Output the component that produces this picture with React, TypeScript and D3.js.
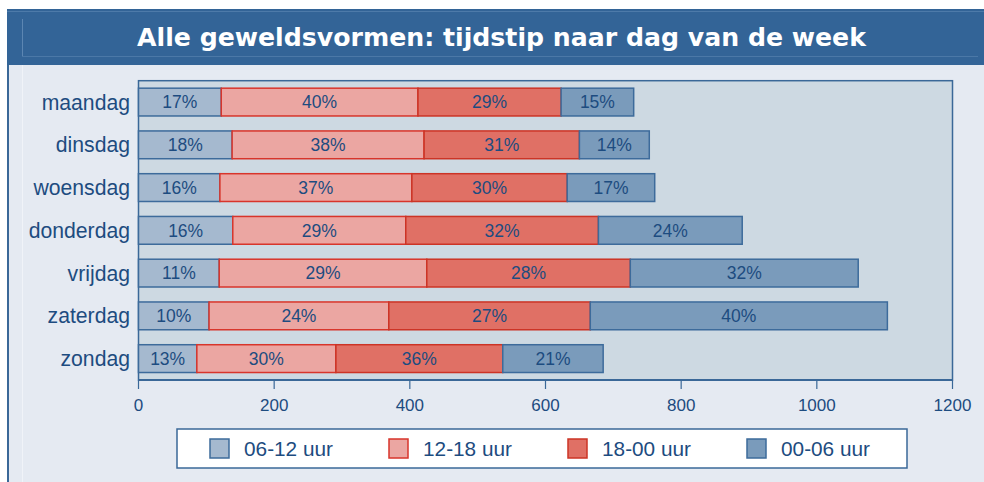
import React from 'react';
import { scaleLinear, scaleBand } from 'd3';

const days = ['maandag', 'dinsdag', 'woensdag', 'donderdag', 'vrijdag', 'zaterdag', 'zondag'];
const series = ['06-12 uur', '12-18 uur', '18-00 uur', '00-06 uur'];

// counts per day
const ochtend = [122, 138, 120, 139, 119, 104, 86];
const middag = [290, 283, 283, 255, 306, 265, 205];
const avond = [211, 229, 229, 284, 300, 297, 246];
const nacht = [107, 103, 129, 212, 336, 438, 148];

// printed percentages
const pctOchtend = ['17%', '18%', '16%', '16%', '11%', '10%', '13%'];
const pctMiddag = ['40%', '38%', '37%', '29%', '29%', '24%', '30%'];
const pctAvond = ['29%', '31%', '30%', '32%', '28%', '27%', '36%'];
const pctNacht = ['15%', '14%', '17%', '24%', '32%', '40%', '21%'];

const xTicks = [0, 200, 400, 600, 800, 1000, 1200];

const fills = ['#a5b9cf', '#eba6a2', '#e07065', '#7a9bbb'];
const strokes = ['#3d6b9b', '#d8352b', '#cc3426', '#3d6b9b'];
const textColor = '#1d4c80';
const font = 'Liberation Sans, Arial, sans-serif';

const App = () => {
  const W = 984;
  const H = 482;
  const left = 138.5;
  const right = 952.5;
  const top = 80.7;
  const bottom = 380;

  const x = scaleLinear().domain([0, 1200]).range([left, right]);
  const y = scaleBand().domain(days).range([top, bottom]).paddingInner(0.35).paddingOuter(0.175);

  const values = [ochtend, middag, avond, nacht];
  const pcts = [pctOchtend, pctMiddag, pctAvond, pctNacht];

  const legendX = [210, 389, 568, 747];

  return (
    <svg width={W} height={H} style={{ position: 'absolute', left: 0, top: 0 }}>
      <rect x={0} y={0} width={W} height={H} fill="#ffffff" />
      {/* page background */}
      <rect x={7} y={9} width={W - 7} height={H - 9} fill="#e5eaf2" />
      <line x1={8} x2={8} y1={9} y2={H} stroke="#3a6898" strokeWidth={2} />
      <line x1={22.5} x2={22.5} y1={65} y2={H} stroke="#f0f3f8" strokeWidth={1} />

      {/* title bar */}
      <rect x={7} y={9} width={W - 7} height={56} fill="#336497" />
      <line x1={7} x2={W} y1={11.5} y2={11.5} stroke="#4d7aa9" strokeWidth={1} />
      <line x1={22.5} x2={22.5} y1={19} y2={56} stroke="#5c86b2" strokeWidth={1} />
      <line x1={22} x2={978} y1={56.5} y2={56.5} stroke="#4b78a7" strokeWidth={1} />
      <text
        x={501.5}
        y={45.5}
        textAnchor="middle"
        fill="#ffffff"
        fontFamily="DejaVu Sans, Verdana, sans-serif"
        fontWeight="bold"
        fontSize={25.2}
      >
        Alle geweldsvormen: tijdstip naar dag van de week
      </text>

      {/* plot area */}
      <rect x={left} y={top} width={right - left} height={bottom - top} fill="#cdd9e2" stroke="#3a6898" strokeWidth={1.5} />

      {days.map((d, i) => {
        let acc = 0;
        const y0 = y(d) as number;
        return (
          <g key={d}>
            {values.map((arr, s) => {
              const v = arr[i];
              const x0 = x(acc);
              const x1 = x(acc + v);
              acc += v;
              return (
                <g key={s}>
                  <rect
                    x={x0}
                    y={y0}
                    width={x1 - x0}
                    height={y.bandwidth()}
                    fill={fills[s]}
                    stroke={strokes[s]}
                    strokeWidth={1.5}
                  />
                  <text
                    x={(x0 + x1) / 2}
                    y={y0 + y.bandwidth() / 2}
                    dy="0.36em"
                    textAnchor="middle"
                    fill={textColor}
                    fontFamily={font}
                    fontSize={17.5}
                  >
                    {pcts[s][i]}
                  </text>
                </g>
              );
            })}
            <text
              x={130}
              y={y0 + y.bandwidth() / 2}
              dy="0.36em"
              textAnchor="end"
              fill={textColor}
              fontFamily={font}
              fontSize={21.2}
            >
              {d}
            </text>
          </g>
        );
      })}

      {/* x axis */}
      <line x1={left} x2={right} y1={bottom} y2={bottom} stroke="#3a6898" strokeWidth={2} />
      {xTicks.map((t) => (
        <g key={t}>
          <line x1={x(t)} x2={x(t)} y1={bottom} y2={bottom + 9} stroke="#3a6898" strokeWidth={1.2} />
          <text
            x={x(t)}
            y={405}
            dy="0.36em"
            textAnchor="middle"
            fill={textColor}
            fontFamily={font}
            fontSize={17}
          >
            {t}
          </text>
        </g>
      ))}

      {/* legend */}
      <rect x={177} y={429} width={730} height={39} fill="#ffffff" stroke="#3a6898" strokeWidth={1.5} />
      {series.map((s, i) => (
        <g key={s}>
          <rect x={legendX[i]} y={439} width={19} height={19} fill={fills[i]} stroke={strokes[i]} strokeWidth={1.5} />
          <text
            x={legendX[i] + 34}
            y={448.5}
            dy="0.36em"
            fill={textColor}
            fontFamily={font}
            fontSize={20.8}
          >
            {s}
          </text>
        </g>
      ))}
    </svg>
  );
};

export default App;
